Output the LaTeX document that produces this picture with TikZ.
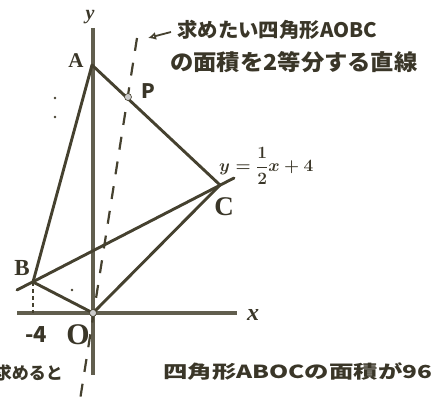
\documentclass[tikz,border=0pt]{standalone}
\usepackage{amsmath}
\usepackage{fontspec}
\newfontfamily\jp{Noto Sans CJK JP}
\newfontfamily\lab{Liberation Serif}
\usetikzlibrary{arrows.meta}
\definecolor{ink}{HTML}{45412F}
\definecolor{txt}{HTML}{3A3628}
\begin{document}
\begin{tikzpicture}[x=1pt,y=-1pt,
  line/.style={draw=ink,line width=2.9pt,line cap=round},
  axisline/.style={draw=ink!85,line width=3.2pt},
  dline/.style={draw=ink,line width=2.2pt,dash pattern=on 13pt off 12pt},
  lbl/.style={text=txt,inner sep=0pt,font=\lab\bfseries\fontsize{21}{23}\selectfont},
  hand/.style={text=txt,inner sep=0pt},
  pt/.style={circle,fill=gray!40,draw=ink,line width=0.6pt,inner sep=0pt,minimum size=7pt}
]
\useasboundingbox (0,0) rectangle (434,398);
\clip (0,0) rectangle (434,398);
% coordinates
\coordinate (A) at (92,65);
\coordinate (B) at (33,282);
\coordinate (C) at (220,185);
\coordinate (Bf) at (33,313);
\coordinate (L1) at (17,290);
\coordinate (L2) at (234,178);
\coordinate (xs) at (17,313);
\coordinate (xe) at (237,313);
\coordinate (ys) at (93,28);
\coordinate (ye) at (93,375);
\coordinate (dtop) at (137,38);
\coordinate (dbot) at (80,400);
\coordinate (arrS) at (171,32);
\coordinate (arrE) at (148,38);
% axes
\draw[axisline] (xs) -- (xe);
\draw[axisline] (ys) -- (ye);
% figure lines
\draw[line] (A) -- (B);
\draw[line] (A) -- (C);
\draw[line] (L1) -- (L2);
\draw[line] (B) -- (93,313);
\draw[line] (93,313) -- (C);
\draw[dline] (dtop) -- (dbot);
\draw[draw=ink,line width=1.8pt,dash pattern=on 4pt off 3pt] (B) -- (Bf);
% points
\node[pt] (O) at (93,313) {};
\node[pt] (P) at (128,97) {};
% stray marks
\fill[ink] (55,98) circle (1.3pt);
\fill[ink] (55,117) circle (1.3pt);
\fill[ink] (72,290) circle (1.3pt);
% labels
\node[lbl] (lA) at (76,61) {A};
\node[lbl,font=\lab\bfseries\fontsize{23}{25}\selectfont] (lB) at (22,268) {B};
\node[lbl,font=\lab\bfseries\fontsize{27}{29}\selectfont] (lC) at (224,207) {C};
\node[lbl,font=\lab\bfseries\fontsize{30}{32}\selectfont] (lO) at (78,335) {O};
\node[hand,font=\jp\bfseries\fontsize{20}{22}\selectfont] (lP) at (148,91) {P};
\node[hand,font=\jp\bfseries\fontsize{22}{24}\selectfont] (lm4) at (36,335) {-4};
\node[lbl,font=\lab\bfseries\itshape\fontsize{20}{22}\selectfont] (ly) at (90,17) {y};
\node[lbl,font=\lab\bfseries\itshape\fontsize{24}{26}\selectfont] (lx) at (253,315) {x};
\node[lbl,anchor=west,font=\fontsize{17}{19}\selectfont] (eq) at (219,166) {$\boldsymbol{y=\dfrac{1}{2}x+4}$};
% annotation
\draw[ink,line width=1.8pt,-{Latex[length=8pt,width=8pt,open]}] (arrS) -- (arrE);
\node[hand,anchor=west,font=\jp\bfseries\fontsize{20}{22}\selectfont] (t1) at (177,30) {\scalebox{1.02}[1]{求めたい四角形AOBC}};
\node[hand,anchor=west,font=\jp\bfseries\fontsize{22}{24}\selectfont] (t2) at (170,62) {\scalebox{1.06}[1]{の面積を2等分する直線}};
\node[hand,anchor=east,font=\jp\bfseries\fontsize{17}{19}\selectfont] (t3) at (63,373) {求めると};
\node[hand,anchor=west,font=\jp\bfseries\fontsize{20}{22}\selectfont] (t4) at (163,372) {\scalebox{1.22}[0.9]{四角形ABOCの面積が96}};
\end{tikzpicture}
\end{document}
